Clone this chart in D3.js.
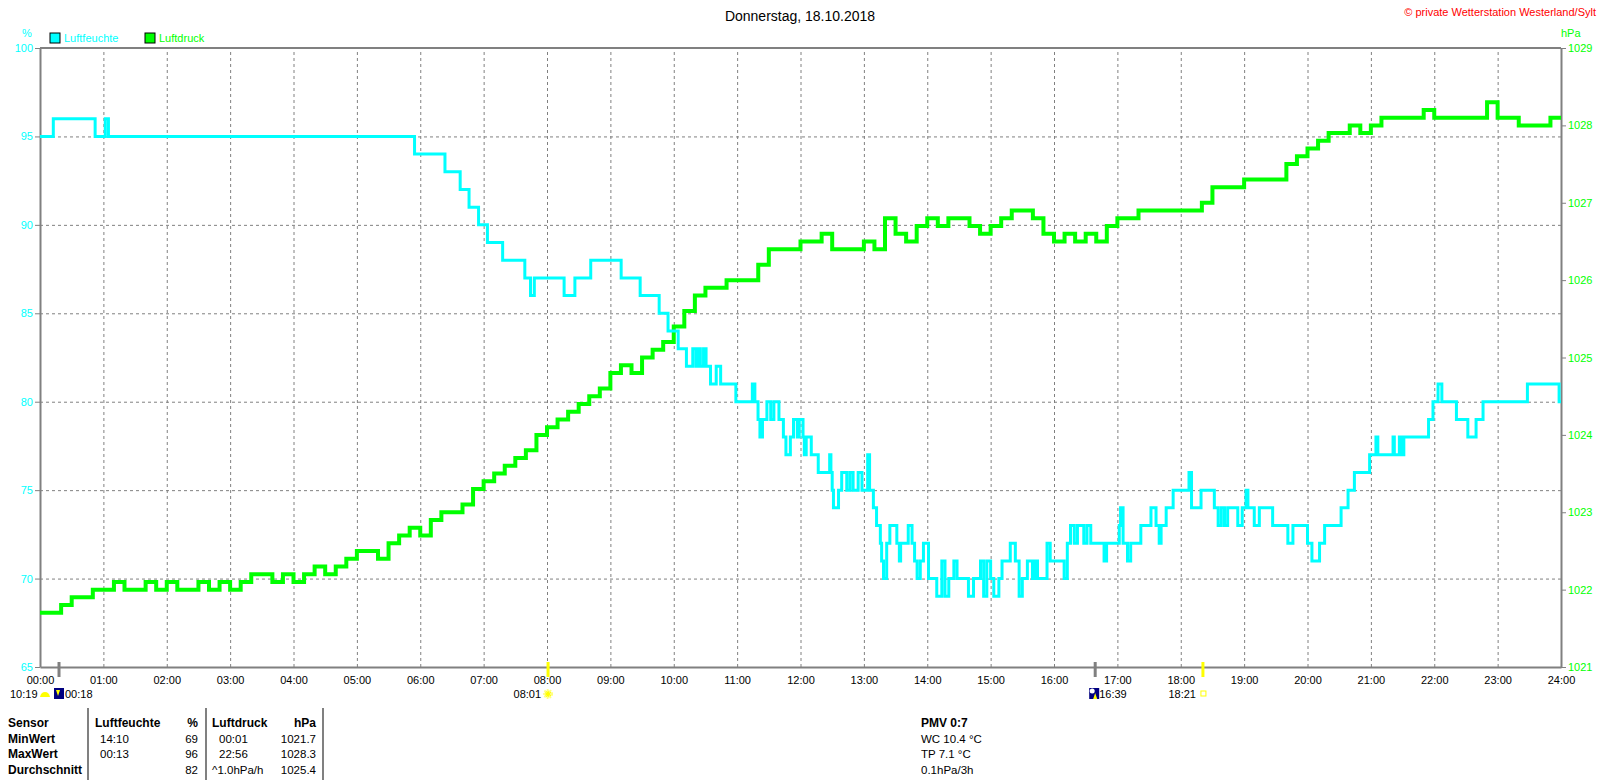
<!DOCTYPE html>
<html>
<head>
	<title>Donnerstag, 18.10.2018</title>
	<style type="text/css">
		body{
			margin: 0;
			background-color: white;
		}
		#chart text{
			font-family: "Liberation Sans", Arial, sans-serif;
		}
		.grid line{
			stroke: #808080;
			stroke-dasharray: 3,3;
		}
		.grid .domain{
			display: none;
		}
	</style>
</head>
<body>
	<svg id="chart" width="1600" height="780"></svg>

<script src="https://cdn.jsdelivr.net/npm/d3@7"></script>
<script type="text/javascript">
	// Luftfeuchte: Zeitpunkte (Stunden) an denen der Wert wechselt, und der neue Wert in %
	let humT = [0, 0.21, 0.87, 1.03, 1.08, 5.91, 6.39, 6.63, 6.77, 6.92, 7.06, 7.30, 7.65, 7.74, 7.80, 8.27, 8.44, 8.69, 9.17, 9.47,
		9.77, 9.91, 10.07, 10.20, 10.30, 10.35, 10.38, 10.42, 10.47, 10.51, 10.58, 10.67, 10.74, 10.98, 11.24, 11.28, 11.33, 11.36, 11.40, 11.47,
		11.53, 11.58, 11.66, 11.73, 11.77, 11.84, 11.89, 11.95, 11.98, 12.04, 12.06, 12.09, 12.17, 12.28, 12.46, 12.48, 12.50, 12.52, 12.60, 12.65,
		12.73, 12.78, 12.83, 12.91, 12.97, 13.06, 13.09, 13.15, 13.20, 13.26, 13.28, 13.31, 13.36, 13.41, 13.52, 13.56, 13.58, 13.70, 13.76, 13.80,
		13.84, 13.89, 13.94, 14.02, 14.15, 14.23, 14.28, 14.34, 14.42, 14.47, 14.65, 14.73, 14.84, 14.89, 14.94, 15.00, 15.05, 15.13, 15.18, 15.31,
		15.39, 15.45, 15.50, 15.58, 15.66, 15.70, 15.74, 15.89, 15.94, 16.16, 16.21, 16.26, 16.32, 16.37, 16.47, 16.52, 16.58, 16.79, 16.83, 17.03,
		17.05, 17.09, 17.16, 17.21, 17.37, 17.53, 17.61, 17.66, 17.69, 17.77, 17.88, 18.13, 18.17, 18.32, 18.53, 18.59, 18.64, 18.69, 18.74, 18.90,
		18.97, 19.03, 19.06, 19.16, 19.24, 19.45, 19.69, 19.77, 20.00, 20.07, 20.19, 20.27, 20.53, 20.64, 20.74, 20.98, 21.08, 21.11, 21.35, 21.37,
		21.45, 21.48, 21.52, 21.91, 21.98, 22.06, 22.12, 22.35, 22.53, 22.66, 22.77, 23.47, 23.97, 24]
	let humV = [95, 96, 95, 96, 95, 94, 93, 92, 91, 90, 89, 88, 87, 86, 87, 86, 87, 88, 87, 86,
		85, 84, 83, 82, 83, 82, 83, 82, 83, 82, 81, 82, 81, 80, 81, 80, 79, 78, 79, 80,
		79, 80, 79, 78, 77, 78, 79, 78, 79, 78, 77, 78, 77, 76, 77, 76, 75, 74, 75, 76,
		75, 76, 75, 76, 75, 77, 75, 74, 73, 72, 71, 70, 72, 73, 72, 71, 72, 73, 72, 71,
		70, 71, 72, 70, 69, 71, 69, 70, 71, 70, 69, 70, 71, 69, 71, 70, 69, 70, 71, 72,
		71, 69, 70, 71, 70, 71, 70, 72, 71, 70, 72, 73, 72, 73, 72, 73, 72, 71, 72, 73,
		74, 72, 71, 72, 73, 74, 73, 72, 73, 74, 75, 76, 74, 75, 74, 73, 74, 73, 74, 73,
		74, 75, 74, 73, 74, 73, 72, 73, 72, 71, 72, 73, 74, 75, 76, 77, 78, 77, 78, 77,
		78, 77, 78, 79, 80, 81, 80, 79, 78, 79, 80, 81, 80, 80]

	// Luftdruck in hPa, alle 10 Minuten von 00:00 bis 24:00
	let pressure = [
		1021.7, 1021.7, 1021.8, 1021.9, 1021.9, 1022.0, 1022.0, 1022.1, 1022.0, 1022.0, 1022.1, 1022.0,
		1022.1, 1022.0, 1022.0, 1022.1, 1022.0, 1022.1, 1022.0, 1022.1, 1022.2, 1022.2, 1022.1, 1022.2,
		1022.1, 1022.2, 1022.3, 1022.2, 1022.3, 1022.4, 1022.5, 1022.5, 1022.4, 1022.6, 1022.7, 1022.8,
		1022.7, 1022.9, 1023.0, 1023.0, 1023.1, 1023.3, 1023.4, 1023.5, 1023.6, 1023.7, 1023.8, 1024.0,
		1024.1, 1024.2, 1024.3, 1024.4, 1024.5, 1024.6, 1024.8, 1024.9, 1024.8, 1025.0, 1025.1, 1025.2,
		1025.4, 1025.6, 1025.8, 1025.9, 1025.9, 1026.0, 1026.0, 1026.0, 1026.2, 1026.4, 1026.4, 1026.4,
		1026.5, 1026.5, 1026.6, 1026.4, 1026.4, 1026.4, 1026.5, 1026.4, 1026.8, 1026.6, 1026.5, 1026.7,
		1026.8, 1026.7, 1026.8, 1026.8, 1026.7, 1026.6, 1026.7, 1026.8, 1026.9, 1026.9, 1026.8, 1026.6,
		1026.5, 1026.6, 1026.5, 1026.6, 1026.5, 1026.7, 1026.8, 1026.8, 1026.9, 1026.9, 1026.9, 1026.9,
		1026.9, 1026.9, 1027.0, 1027.2, 1027.2, 1027.2, 1027.3, 1027.3, 1027.3, 1027.3, 1027.5, 1027.6,
		1027.7, 1027.8, 1027.9, 1027.9, 1028.0, 1027.9, 1028.0, 1028.1, 1028.1, 1028.1, 1028.1, 1028.2,
		1028.1, 1028.1, 1028.1, 1028.1, 1028.1, 1028.3, 1028.1, 1028.1, 1028.0, 1028.0, 1028.0, 1028.1,
		1028.1]

	let humTicks = [65, 70, 75, 80, 85, 90, 95, 100]
	let pressTicks = [1021, 1022, 1023, 1024, 1025, 1026, 1027, 1028, 1029]
	let hourTicks = d3.range(0, 25)

	// Sonne / Mond
	let sunTimes = [8 + 1/60, 18 + 21/60]
	let moonTimes = [18/60, 16 + 39/60]

	let tableRows = [
		["Sensor", "Luftfeuchte", "%", "Luftdruck", "hPa"],
		["MinWert", "14:10", "69", "00:01", "1021.7"],
		["MaxWert", "00:13", "96", "22:56", "1028.3"],
		["Durchschnitt", "", "82", "^1.0hPa/h", "1025.4"]
	]
	let extraLines = ["PMV 0:7", "WC 10.4 °C", "TP 7.1 °C", "0.1hPa/3h"]

	let plotLeft = 40, plotRight = 1561, plotTop = 48, plotBottom = 667
	let cyan = "#00ffff", green = "#00ff00", grey = "#808080"

	let svg = d3.select("#chart")

	let x = d3.scaleLinear().domain([0, 24]).range([plotLeft, plotRight])
	let yHum = d3.scaleLinear().domain([65, 100]).range([plotBottom, plotTop])
	let yPress = d3.scaleLinear().domain([1021, 1029]).range([plotBottom, plotTop])

	// Gitter
	svg.append("g").attr("class", "grid")
		.attr("transform", "translate(0," + plotBottom + ")")
		.call(d3.axisBottom(x).tickValues(d3.range(1, 24)).tickSize(-(plotBottom - plotTop)).tickFormat(""))
	svg.append("g").attr("class", "grid")
		.attr("transform", "translate(" + plotLeft + ",0)")
		.call(d3.axisLeft(yHum).tickValues(humTicks.slice(1, -1)).tickSize(-(plotRight - plotLeft)).tickFormat(""))

	// Rahmen
	svg.append("line").attr("x1", plotLeft).attr("x2", plotRight).attr("y1", plotTop).attr("y2", plotTop)
		.attr("stroke", grey).attr("stroke-width", 2)

	let xAxis = svg.append("g").attr("class", "axis")
		.attr("transform", "translate(0," + plotBottom + ")")
		.call(d3.axisBottom(x).tickValues(hourTicks).tickSize(0).tickPadding(9).tickSizeOuter(0)
			.tickFormat(d => (d < 10 ? "0" : "") + d + ":00"))
	xAxis.selectAll("text").attr("fill", "black").style("font-size", "11px")

	let yAxisL = svg.append("g").attr("class", "axis")
		.attr("transform", "translate(" + plotLeft + ",0)")
		.call(d3.axisLeft(yHum).tickValues(humTicks).tickSize(5).tickPadding(2).tickSizeOuter(0).tickFormat(d => d))
	yAxisL.selectAll("text").attr("fill", cyan).style("font-size", "11px")

	let yAxisR = svg.append("g").attr("class", "axis")
		.attr("transform", "translate(" + plotRight + ",0)")
		.call(d3.axisRight(yPress).tickValues(pressTicks).tickSize(5).tickPadding(2).tickSizeOuter(0).tickFormat(d => d))
	yAxisR.selectAll("text").attr("fill", green).style("font-size", "11px")

	svg.selectAll(".axis .domain").attr("stroke", grey).attr("stroke-width", 2)
	svg.selectAll(".axis .tick line").attr("stroke", grey)

	// Linien
	let humData = humT.map((t, i) => ({ t: t, v: humV[i] }))
	let pressData = pressure.map((p, i) => ({ t: i / 6, v: p }))

	svg.append("path")
		.datum(pressData)
		.attr("fill", "none")
		.attr("stroke", green)
		.attr("stroke-width", 4)
		.attr("d", d3.line().curve(d3.curveStepAfter).x(d => x(d.t)).y(d => yPress(d.v)))

	svg.append("path")
		.datum(humData)
		.attr("fill", "none")
		.attr("stroke", cyan)
		.attr("stroke-width", 3)
		.attr("d", d3.line().curve(d3.curveStepAfter).x(d => x(d.t)).y(d => yHum(d.v)))

	// Titel und Beschriftung
	svg.append("text").text("Donnerstag, 18.10.2018").attr("x", 800).attr("y", 21)
		.attr("text-anchor", "middle").style("font-size", "14px")
	svg.append("text").text("© private Wetterstation Westerland/Sylt").attr("x", 1596).attr("y", 16)
		.attr("text-anchor", "end").attr("fill", "red").style("font-size", "11px")
	svg.append("text").text("%").attr("x", 27).attr("y", 37).attr("text-anchor", "middle")
		.attr("fill", cyan).style("font-size", "11px")
	svg.append("text").text("hPa").attr("x", 1561).attr("y", 37)
		.attr("fill", green).style("font-size", "11px")

	let legend = [["Luftfeuchte", cyan, 50], ["Luftdruck", green, 145]]
	legend.forEach(l => {
		svg.append("rect").attr("x", l[2]).attr("y", 33).attr("width", 10).attr("height", 10)
			.attr("fill", l[1]).attr("stroke", "black")
		svg.append("text").text(l[0]).attr("x", l[2] + 14).attr("y", 42)
			.attr("fill", l[1]).style("font-size", "11px")
	})

	// Sonnenauf- und -untergang, Mondauf- und -untergang
	sunTimes.forEach(t => {
		svg.append("line").attr("x1", x(t)).attr("x2", x(t)).attr("y1", plotBottom - 5).attr("y2", plotBottom + 10)
			.attr("stroke", "#ffff00").attr("stroke-width", 3)
	})
	moonTimes.forEach(t => {
		svg.append("line").attr("x1", x(t)).attr("x2", x(t)).attr("y1", plotBottom - 5).attr("y2", plotBottom + 10)
			.attr("stroke", grey).attr("stroke-width", 3)
	})

	let small = (txt, xx, yy, anchor) => svg.append("text").text(txt).attr("x", xx).attr("y", yy)
		.attr("text-anchor", anchor || "start").style("font-size", "11px")

	small("10:19", 10, 698)
	svg.append("path").attr("d", "M40,697 q1,-5 5,-5 q4,0 5,5 z").attr("fill", "#ffff00")
	svg.append("rect").attr("x", x(moonTimes[0]) - 5).attr("y", 688).attr("width", 10).attr("height", 11).attr("fill", "#000080")
	svg.append("path").attr("d", "M" + (x(moonTimes[0]) - 3) + ",690 l4,0 l-2,6 z").attr("fill", "#ffff00")
	small("00:18", x(moonTimes[0]) + 6, 698)

	small("08:01", x(sunTimes[0]) - 7, 698, "end")
	svg.append("circle").attr("cx", x(sunTimes[0])).attr("cy", 694).attr("r", 3.5).attr("fill", "#ffff00")
		.attr("stroke", "#ffff80").attr("stroke-width", 3).attr("stroke-dasharray", "1.5,1")

	svg.append("rect").attr("x", x(moonTimes[1]) - 6).attr("y", 688).attr("width", 10).attr("height", 11).attr("fill", "#000080")
	svg.append("circle").attr("cx", x(moonTimes[1]) - 3).attr("cy", 691).attr("r", 2.5).attr("fill", "white")
	svg.append("path").attr("d", "M" + (x(moonTimes[1]) - 2) + ",699 l2,-6 l2,6 z").attr("fill", "#ffff00")
	small("16:39", x(moonTimes[1]) + 4, 698)

	small("18:21", x(sunTimes[1]) - 7, 698, "end")
	svg.append("rect").attr("x", x(sunTimes[1]) - 2).attr("y", 691).attr("width", 5).attr("height", 5)
		.attr("fill", "none").attr("stroke", "#ffff00")

	// Tabelle
	let colX = [8, 95, 198, 212, 316]
	let colAnchor = ["start", "start", "end", "start", "end"]
	let rowY = [727, 743, 758, 774]
	tableRows.forEach((row, r) => {
		row.forEach((cell, c) => {
			let xx = colX[c]
			if (r > 0 && c == 1) xx = 100
			if (r > 0 && r < 3 && c == 3) xx = 219
			svg.append("text").text(cell).attr("x", xx).attr("y", rowY[r])
				.attr("text-anchor", colAnchor[c])
				.style("font-size", r == 0 || c == 0 ? "12px" : "11.5px")
				.style("font-weight", r == 0 || c == 0 ? "bold" : "normal")
		})
	})
	;[88, 206, 323].forEach(xx => {
		svg.append("line").attr("x1", xx).attr("x2", xx).attr("y1", 708).attr("y2", 780)
			.attr("stroke", grey).attr("stroke-width", 2)
	})

	extraLines.forEach((l, i) => {
		svg.append("text").text(l).attr("x", 921).attr("y", rowY[i])
			.style("font-size", i == 0 ? "12px" : "11.5px")
			.style("font-weight", i == 0 ? "bold" : "normal")
	})
</script>
</body>
</html>
